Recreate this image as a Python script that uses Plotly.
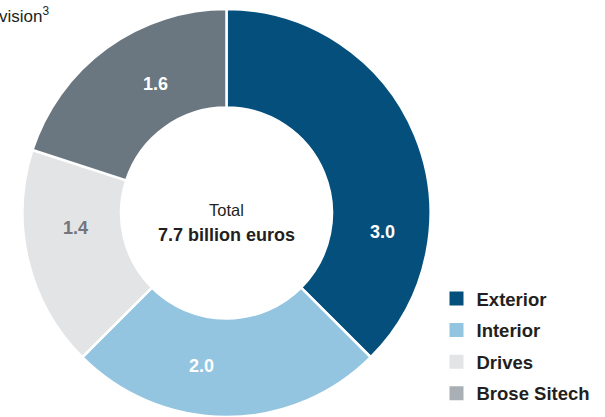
import math
import plotly.graph_objects as go

# Sales by division, billion euros
divisions = ["Exterior", "Interior", "Drives", "Brose Sitech"]
sales = [3.0, 2.0, 1.4, 1.6]
total_label = "7.7 billion euros"

slice_colors = ["#054f7d", "#93c5e1", "#e3e4e6", "#6b7780"]
legend_colors = ["#054f7d", "#93c5e1", "#e3e4e6", "#a9afb5"]
value_text_colors = ["#ffffff", "#ffffff", "#70767c", "#ffffff"]

# Where each value label sits: angle clockwise from 12 o'clock, fraction of outer radius
label_angle = [97.1, 189.1, 264.3, 331.3]
label_radius = [0.77, 0.76, 0.745, 0.722]

W, H = 605, 417
FONT = "Liberation Sans, Arial, Helvetica, sans-serif"
TEXT = "#231f20"

# donut placement in pixels
cx, top, bottom = 226.5, 9.0, 417.0
R = (bottom - top) / 2
cy = top + R

fig = go.Figure()
fig.add_trace(go.Pie(
    labels=divisions,
    values=sales,
    sort=False,
    direction="clockwise",
    rotation=0,
    hole=0.517,
    marker=dict(colors=slice_colors, line=dict(color="#ffffff", width=2.5)),
    textinfo="none",
    hoverinfo="label+value",
    showlegend=False,
    domain=dict(x=[(cx - R) / W, (cx + R) / W], y=[1 - bottom / H, 1 - top / H]),
))

# legend entries (swatch colours differ slightly from the slices)
for name, col in zip(divisions, legend_colors):
    fig.add_trace(go.Scatter(
        x=[None], y=[None], mode="markers", name=name, legendgroup=name,
        marker=dict(symbol="square", size=14, color=col),
    ))

annotations = []
for val, ang, rf, col in zip(sales, label_angle, label_radius, value_text_colors):
    a = math.radians(ang)
    px = cx + rf * R * math.sin(a)
    py = cy - rf * R * math.cos(a)
    annotations.append(dict(
        x=px / W, y=1 - py / H, xref="paper", yref="paper",
        text=f"<b>{val:.1f}</b>", showarrow=False,
        font=dict(family=FONT, size=18, color=col),
        xanchor="center", yanchor="middle",
    ))

# centre caption
annotations.append(dict(
    x=cx / W, y=1 - (cy - 3) / H, xref="paper", yref="paper", text="Total",
    showarrow=False, font=dict(family=FONT, size=16.5, color=TEXT),
    xanchor="center", yanchor="middle",
))
annotations.append(dict(
    x=cx / W, y=1 - (cy + 22) / H, xref="paper", yref="paper",
    text=f"<b>{total_label}</b>", showarrow=False,
    font=dict(family=FONT, size=18, color=TEXT),
    xanchor="center", yanchor="middle",
))

# heading fragment at the top-left
annotations.append(dict(
    x=51 / W, y=1 - 15 / H, xref="paper", yref="paper", text="vision<sup>3</sup>",
    showarrow=False, font=dict(family=FONT, size=17, color=TEXT),
    xanchor="right", yanchor="middle",
))

fig.update_layout(
    width=W, height=H,
    margin=dict(l=0, r=0, t=0, b=0, autoexpand=False),
    paper_bgcolor="#ffffff", plot_bgcolor="#ffffff",
    xaxis=dict(visible=False), yaxis=dict(visible=False),
    annotations=annotations,
    showlegend=True,
    legend=dict(
        x=436.5 / W, y=1 - 280 / H, xanchor="left", yanchor="top",
        font=dict(family=FONT, size=18.5, color=TEXT, weight="bold"),
        tracegroupgap=4.5, itemsizing="trace", bgcolor="rgba(0,0,0,0)",
    ),
)

fig.write_html("out.html")
